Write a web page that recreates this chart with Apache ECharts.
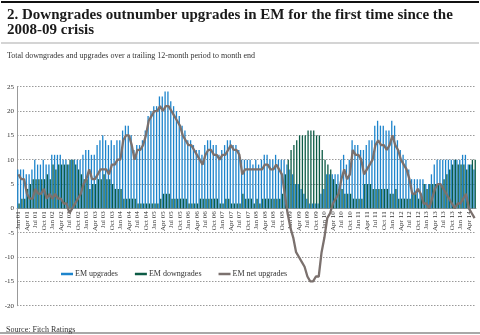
<!DOCTYPE html>
<html>
<head>
<meta charset="utf-8">
<script src="https://cdn.jsdelivr.net/npm/echarts@6/dist/echarts.min.js"></script>
<style>
  html, body { margin: 0; padding: 0; background: #fff; }
  #chart { width: 480px; height: 335px; }
</style>
</head>
<body>
<div id="chart"></div>
<script>
// Monthly categories, Jan 2001 to Jun 2014
const monthNames = ['Jan', 'Feb', 'Mar', 'Apr', 'May', 'Jun', 'Jul', 'Aug', 'Sep', 'Oct', 'Nov', 'Dec'];
const firstYear = 2001;
const lastYear = 2014;
const lastMonthOfLastYear = 6;

// Trailing 12-month counts of rating actions
const emUpgrades = [
  8, 8, 8, 7, 7, 8, 10, 9, 9, 10, 9, 9,            // 2001
  11, 11, 11, 11, 10, 10, 9, 10, 10, 10, 10, 11,   // 2002
  12, 12, 11, 11, 13, 14, 15, 14, 13, 14, 13, 14,  // 2003
  14, 16, 17, 17, 15, 12, 13, 13, 14, 16, 19, 20,  // 2004
  21, 21, 23, 23, 24, 24, 22, 21, 20, 19, 17, 16,  // 2005
  14, 14, 13, 12, 12, 11, 13, 14, 14, 13, 13, 11,  // 2006
  12, 13, 14, 14, 13, 13, 12, 10, 10, 10, 10, 9,   // 2007
  10, 9, 10, 11, 11, 10, 10, 11, 10, 10, 10, 9,    // 2008
  8, 7, 5, 5, 4, 3, 2, 1, 1, 1, 1, 3,              // 2009
  4, 7, 7, 7, 7, 7, 10, 11, 9, 10, 14, 13,         // 2010
  13, 12, 12, 13, 14, 14, 17, 18, 17, 17, 16, 16,  // 2011
  18, 17, 14, 12, 11, 10, 8, 6, 6, 6, 6, 6,        // 2012
  5, 5, 7, 9, 10, 10, 10, 10, 10, 10, 10, 10,      // 2013
  10, 11, 11, 9, 9, 8                              // 2014
];

const emDowngrades = [
  1, 2, 2, 4, 5, 6, 6, 6, 6, 6, 7, 6,              // 2001
  9, 8, 9, 9, 9, 9, 10, 10, 9, 8, 7, 6,            // 2002
  6, 4, 5, 5, 6, 6, 7, 6, 6, 5, 4, 4,              // 2003
  4, 2, 2, 2, 2, 2, 1, 1, 1, 1, 1, 1,              // 2004
  1, 1, 2, 3, 3, 3, 2, 2, 2, 2, 2, 2,              // 2005
  1, 1, 1, 1, 2, 2, 2, 2, 2, 2, 2, 1,              // 2006
  1, 2, 2, 1, 1, 1, 1, 3, 2, 2, 2, 1,              // 2007
  2, 1, 2, 2, 2, 2, 2, 2, 2, 3, 7, 10,             // 2008
  12, 13, 14, 15, 15, 15, 16, 16, 16, 15, 15, 12,  // 2009
  10, 9, 8, 6, 5, 4, 4, 3, 3, 3, 2, 2,             // 2010
  2, 2, 5, 5, 5, 4, 4, 4, 4, 4, 4, 3,              // 2011
  3, 4, 2, 2, 2, 2, 2, 3, 3, 2, 3, 5,              // 2012
  4, 5, 5, 5, 5, 5, 6, 7, 8, 9, 10, 9,             // 2013
  9, 9, 8, 9, 10, 10                               // 2014
];

const emNetUpgrades = [
  7, 6, 6, 3, 2, 2, 4, 3, 3, 4, 2, 3,              // 2001
  2, 3, 2, 2, 1, 1, -1, 0, 1, 2, 3, 5,             // 2002
  6, 8, 6, 6, 7, 8, 8, 8, 7, 9, 9, 10,             // 2003
  10, 14, 15, 15, 13, 10, 12, 12, 13, 15, 18, 19,  // 2004
  20, 20, 21, 20, 21, 21, 20, 19, 18, 17, 15, 14,  // 2005
  13, 13, 12, 11, 10, 9, 11, 12, 12, 11, 11, 10,   // 2006
  11, 11, 12, 13, 12, 12, 11, 7, 8, 8, 8, 8,       // 2007
  8, 8, 8, 9, 9, 8, 8, 9, 8, 7, 3, -1,             // 2008
  -4, -6, -9, -10, -11, -12, -14, -15, -15, -14, -14, -9, // 2009
  -6, -2, -1, 1, 2, 3, 6, 8, 6, 7, 12, 11,         // 2010
  11, 10, 7, 8, 9, 10, 13, 14, 13, 13, 12, 13,     // 2011
  15, 13, 12, 10, 9, 8, 6, 3, 3, 4, 3, 1,          // 2012
  1, 0, 2, 4, 5, 5, 4, 3, 2, 1, 0, 1,              // 2013
  1, 2, 3, 0, -1, -2                               // 2014
];

const yTicks = { min: -20, max: 25, step: 5 };

const seriesNames = ['EM upgrades', 'EM downgrades', 'EM net upgrades'];

const titleText = '2. Downgrades outnumber upgrades in EM for the first time since the\n2008-09 crisis';
const subtitleText = 'Total downgrades and upgrades over a trailing 12-month period to month end';
const sourceText = 'Source: Fitch Ratings';

// Build "Jan 01" style month labels
const months = [];
for (let y = firstYear; y <= lastYear; y++) {
  const endM = (y === lastYear) ? lastMonthOfLastYear : 12;
  for (let m = 0; m < endM; m++) {
    months.push(monthNames[m] + ' ' + String(y % 100).padStart(2, '0'));
  }
}

const SERIF = '"Liberation Serif", "DejaVu Serif", serif';
const BLUE = '#1d84cc';
const GREEN = '#0c5b45';
const GREY_LINE = '#7b716e';

// Plot frame in pixels; the category axis sits on the zero line
const GRID = { left: 17, right: 4, top: 86.7, bottom: 29.3 };
const plotHeight = 335 - GRID.top - GRID.bottom;
const zeroOffset = -plotHeight * (0 - yTicks.min) / (yTicks.max - yTicks.min);

const chart = echarts.init(document.getElementById('chart'), null, { renderer: 'canvas' });

chart.setOption({
  backgroundColor: '#ffffff',
  animation: false,
  title: [
    {
      text: titleText,
      left: 2, top: 2,
      textStyle: { fontFamily: SERIF, fontSize: 15, fontWeight: 'bold', color: '#1a1a1a', lineHeight: 15.5 }
    },
    {
      text: subtitleText,
      left: 2, top: 47,
      textStyle: { fontFamily: SERIF, fontSize: 8, fontWeight: 'normal', color: '#333' }
    },
    {
      text: sourceText,
      left: 1, top: 321,
      textStyle: { fontFamily: SERIF, fontSize: 8, fontWeight: 'normal', color: '#333' }
    }
  ],
  graphic: [
    { type: 'rect', shape: { x: 1, y: 1, width: 478, height: 2 }, style: { fill: '#111' } },
    { type: 'rect', shape: { x: 1, y: 42.5, width: 478, height: 1 }, style: { fill: '#aaa' } },
    { type: 'rect', shape: { x: 0, y: 332, width: 480, height: 2 }, style: { fill: '#a8a8a8' } }
  ],
  legend: {
    data: [
      { name: seriesNames[0], icon: 'rect' },
      { name: seriesNames[1], icon: 'rect' },
      { name: seriesNames[2], icon: 'rect' }
    ],
    left: 56, top: 265,
    itemWidth: 12, itemHeight: 2.5, itemGap: 17,
    textStyle: { fontFamily: SERIF, fontSize: 8, color: '#333', padding: [0, 0, 0, -3] }
  },
  grid: { left: GRID.left, right: GRID.right, top: GRID.top, bottom: GRID.bottom, containLabel: false },
  xAxis: {
    type: 'category',
    data: months,
    boundaryGap: true,
    position: 'bottom',
    offset: zeroOffset,
    axisLine: { onZero: false, lineStyle: { color: '#999', width: 1 } },
    axisTick: { show: false },
    axisLabel: {
      interval: 2, rotate: 90, fontFamily: SERIF, fontSize: 7, color: '#333', margin: 3
    },
    splitLine: { show: false }
  },
  yAxis: {
    type: 'value',
    min: yTicks.min, max: yTicks.max, interval: yTicks.step,
    axisLine: { show: true, lineStyle: { color: '#999', width: 1 } },
    axisTick: { show: false },
    axisLabel: { fontFamily: SERIF, fontSize: 7, color: '#333', margin: 3 },
    splitLine: { show: true, lineStyle: { type: [1.5, 1.5], color: '#9a9a9a', width: 1 } }
  },
  series: [
    {
      name: seriesNames[0], type: 'bar', data: emUpgrades,
      barGap: '0%', barCategoryGap: '8%',
      itemStyle: { color: BLUE }
    },
    {
      name: seriesNames[1], type: 'bar', data: emDowngrades,
      barGap: '0%', barCategoryGap: '8%',
      itemStyle: { color: GREEN }
    },
    {
      name: seriesNames[2], type: 'line', data: emNetUpgrades,
      symbol: 'none', smooth: false,
      lineStyle: { color: GREY_LINE, width: 2.3 },
      itemStyle: { color: GREY_LINE },
      z: 5
    }
  ]
});
</script>
</body>
</html>
